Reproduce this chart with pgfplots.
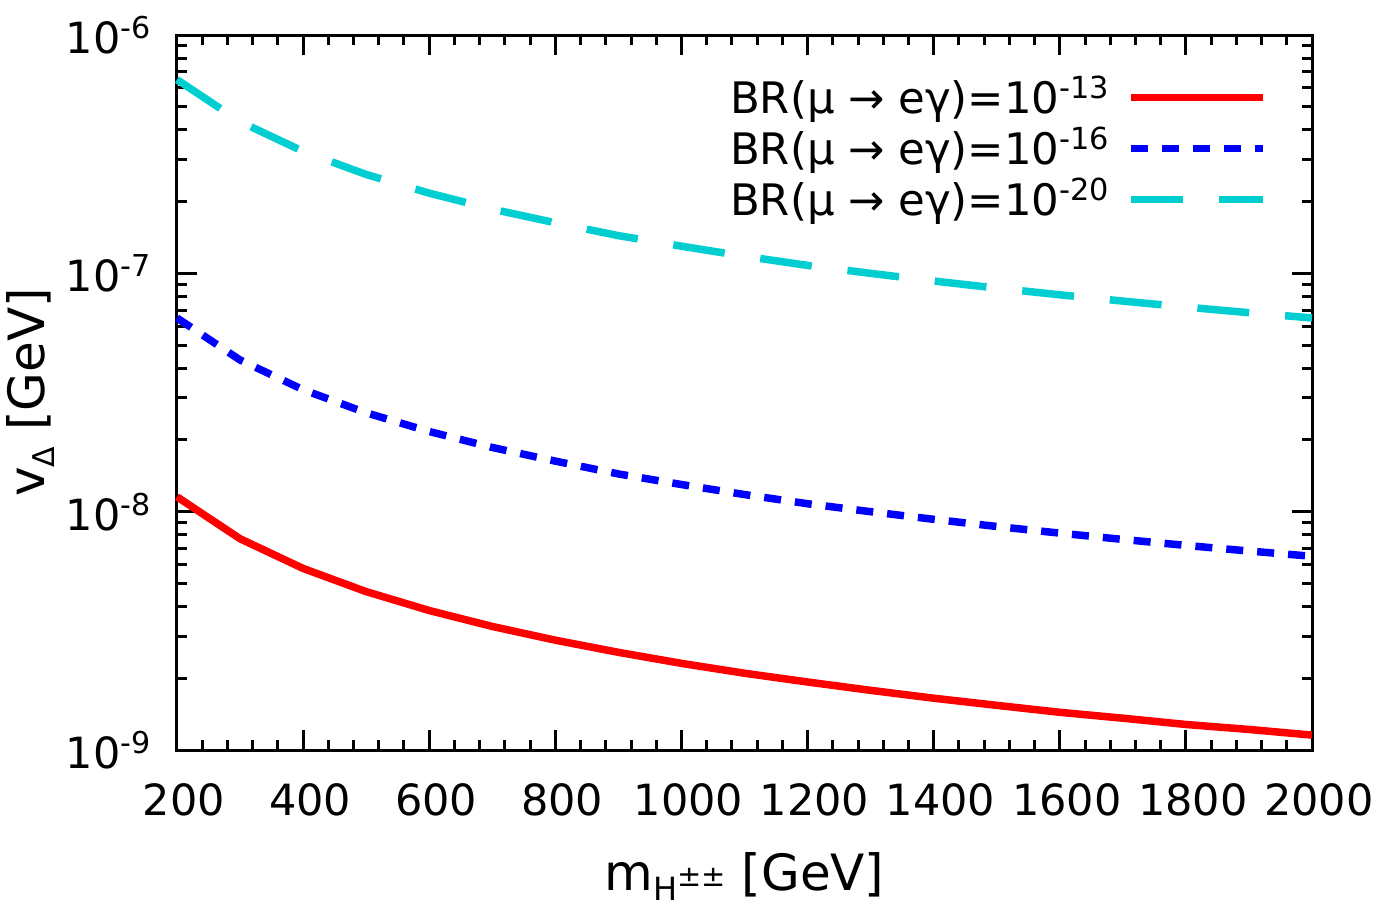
\documentclass[border=0pt]{standalone}
\usepackage{fontspec}
\setmainfont{DejaVu Sans}
\usepackage{pgfplots}
\pgfplotsset{compat=1.18}
\definecolor{myred}{RGB}{255,0,0}
\definecolor{myblue}{RGB}{0,0,255}
\definecolor{mycyan}{RGB}{0,206,209}
\begin{document}
\begin{tikzpicture}
\begin{axis}[
  at={(0pt,0pt)}, anchor=south west,
  scale only axis, width=567.5pt, height=357.5pt,
  xmin=200, xmax=2000, ymode=log, ymin=1e-9, ymax=1e-6,
  clip=false,
  xtick={200,400,600,800,1000,1200,1400,1600,1800,2000},
  xticklabels={200,400,600,800,1000,1200,1400,1600,1800,2000},
  minor x tick num=4,
  ytick={1e-9,1e-8,1e-7,1e-6},
  yticklabels={10\textsuperscript{-9},10\textsuperscript{-8},10\textsuperscript{-7},10\textsuperscript{-6}},
  axis line style={line width=1.5pt},
  every tick/.style={line width=1.5pt, black},
  major tick length=10pt, minor tick length=5pt,
  tick label style={font=\fontsize{21.5}{25}\selectfont},
  xticklabel style={inner sep=0pt, yshift=-16.5pt, xshift=3.5pt},
  yticklabel style={inner sep=0pt, xshift=-12.5pt},
  xlabel={m\raisebox{-5pt}{\fontsize{16}{16}\selectfont H}\raisebox{2pt}{\fontsize{14.5}{14.5}\selectfont ±±} [GeV]},
  xlabel style={font=\fontsize{25}{28}\selectfont, at={(axis description cs:0.5,-0.1958)}, anchor=base, inner sep=0pt},
  ylabel={v\raisebox{-5pt}{\fontsize{15}{15}\selectfont Δ} [GeV]},
  ylabel style={font=\fontsize{25}{28}\selectfont, at={(axis description cs:-0.1295,0.5)}, anchor=center, rotate=0, inner sep=0pt},
  legend plot pos=right,
  legend cell align=right,
  legend image code/.code={\draw[#1] (0pt,0pt) -- (66pt,0pt);},
  legend style={draw=none, fill=none, inner sep=0pt, column sep=8.5pt, row sep=0pt,
    at={(rel axis cs:0.9604,0.949)}, anchor=north east,
    font=\fontsize{21.7}{25}\selectfont,
    nodes={inner sep=0pt, text height=20.75pt, text depth=4.75pt}},
]
\addplot[myred, line width=3.75pt] coordinates {
(200,1.155e-8) (300,7.70e-9) (400,5.78e-9) (500,4.62e-9) (600,3.85e-9)
(700,3.30e-9) (800,2.89e-9) (900,2.57e-9) (1000,2.31e-9) (1100,2.10e-9)
(1200,1.93e-9) (1300,1.78e-9) (1400,1.65e-9) (1500,1.54e-9) (1600,1.44e-9)
(1700,1.36e-9) (1800,1.28e-9) (1900,1.22e-9) (2000,1.155e-9)};
\addlegendentry{BR(μ → eγ)=10\textsuperscript{-13}}
\addplot[myblue, line width=3.75pt, dash pattern=on 8.5pt off 7pt] coordinates {
(200,6.50e-8) (300,4.33e-8) (400,3.25e-8) (500,2.60e-8) (600,2.17e-8)
(700,1.86e-8) (800,1.63e-8) (900,1.44e-8) (1000,1.30e-8) (1100,1.18e-8)
(1200,1.08e-8) (1300,1.00e-8) (1400,9.29e-9) (1500,8.67e-9) (1600,8.13e-9)
(1700,7.65e-9) (1800,7.22e-9) (1900,6.84e-9) (2000,6.50e-9)};
\addlegendentry{BR(μ → eγ)=10\textsuperscript{-16}}
\addplot[mycyan, line width=3.75pt, dash pattern=on 26pt off 18pt] coordinates {
(200,6.50e-7) (300,4.33e-7) (400,3.25e-7) (500,2.60e-7) (600,2.17e-7)
(700,1.86e-7) (800,1.63e-7) (900,1.44e-7) (1000,1.30e-7) (1100,1.18e-7)
(1200,1.08e-7) (1300,1.00e-7) (1400,9.29e-8) (1500,8.67e-8) (1600,8.13e-8)
(1700,7.65e-8) (1800,7.22e-8) (1900,6.84e-8) (2000,6.50e-8)};
\addlegendentry{BR(μ → eγ)=10\textsuperscript{-20}}
\end{axis}
\pgfresetboundingbox
\path[use as bounding box] (-88.5pt,-80pt) rectangle (599.5pt,375pt);
\end{tikzpicture}
\end{document}
